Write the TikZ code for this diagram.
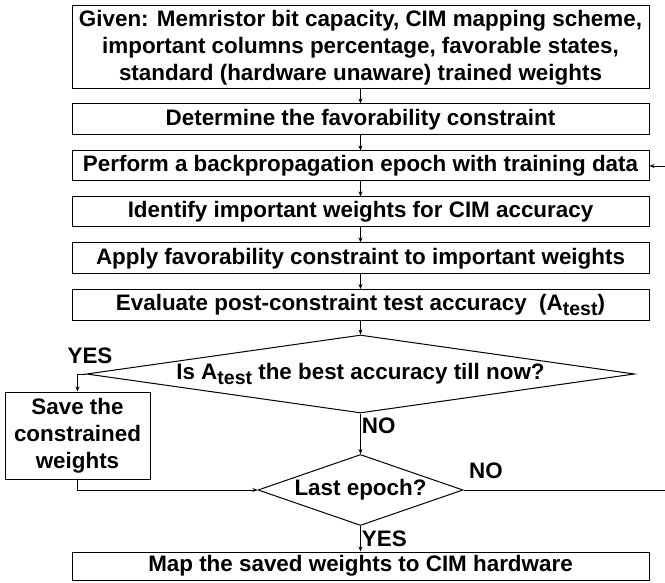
\documentclass[tikz,border=0pt]{standalone}
\usepackage{fontspec}
\setmainfont{Liberation Sans}
\usetikzlibrary{shapes.geometric,arrows.meta}
\newcommand{\flowfont}{\fontsize{22.4}{26.8}\selectfont\bfseries}
\newcommand{\Atest}{A\raisebox{-0.45ex}{\fontsize{19.5}{19.5}\selectfont test}}
\tikzset{
  stepbox/.style={draw, line width=1pt, minimum width=577pt, align=center,
                  inner sep=0pt, font=\flowfont},
  sidebox/.style={draw, line width=1pt, minimum width=145pt, minimum height=87pt,
                  align=center, inner sep=0pt, font=\flowfont},
  decision/.style={draw, diamond, line width=1pt, inner sep=0pt},
  answer/.style={font=\flowfont, inner sep=1pt},
  flow/.style={-{Stealth[length=5pt,width=4pt]}, line width=0.8pt},
}

\begin{document}
\begin{tikzpicture}[x=1pt, y=-1pt]
  \useasboundingbox (0,0) rectangle (665,583);

  % --- main column -------------------------------------------------------
  \node[stepbox, minimum height=83pt] (given) at (360.5,47.5)
    {Given: Memristor bit capacity, CIM mapping scheme,\\
     important columns percentage, favorable states,\\
     standard (hardware unaware) trained weights};
  \node[stepbox, minimum height=31pt] (determine) at (360.5,119.5) {Determine the favorability constraint};
  \node[stepbox, minimum height=30pt] (perform) at (360.5,166) {Perform a backpropagation epoch with training data};
  \node[stepbox, minimum height=30pt] (identify) at (360.5,212) {Identify important weights for CIM accuracy};
  \node[stepbox, minimum height=31pt] (apply) at (360.5,258.5) {Apply favorability constraint to important weights};
  \node[stepbox, minimum height=31pt] (evaluate) at (360.5,305) {Evaluate post-constraint test accuracy \ (\Atest)};

  % --- decisions ----------------------------------------------------------
  \node[decision, minimum width=548pt, minimum height=78pt] (best) at (360.5,374) {};
  \node[answer] (bestq) at (best) {Is \Atest{} the best accuracy till now?};
  \node[sidebox] (save) at (77.5,435.5) {Save the\\constrained\\weights};
  \node[decision, minimum width=205pt, minimum height=71pt] (last) at (360.5,490) {};
  \node[answer] (lastq) at (last) {Last epoch?};
  \node[stepbox, minimum height=28pt] (map) at (360.5,566) {Map the saved weights to CIM hardware};

  % --- connectors ---------------------------------------------------------
  \foreach \a/\b in {given/determine, determine/perform, perform/identify,
                     identify/apply, apply/evaluate, evaluate/best}
    \draw[flow] (\a) -- (\b);
  \draw[flow] (best.west) -| (save.north);
  \node[answer] (yesbest) at (90,356) {YES};
  \draw[flow] (best.south) -- node[answer, right, pos=0.3] (nobest) {NO} (last.north);
  \draw[flow] (save.south) |- (last.west);
  \draw[flow] (last.east) -- ++(210,0) |- (perform.east);
  \node[answer] (nolast) at (486,471) {NO};
  \draw[flow] (last.south) -- node[answer, right] (yeslast) {YES} (map.north);
\end{tikzpicture}
\end{document}
